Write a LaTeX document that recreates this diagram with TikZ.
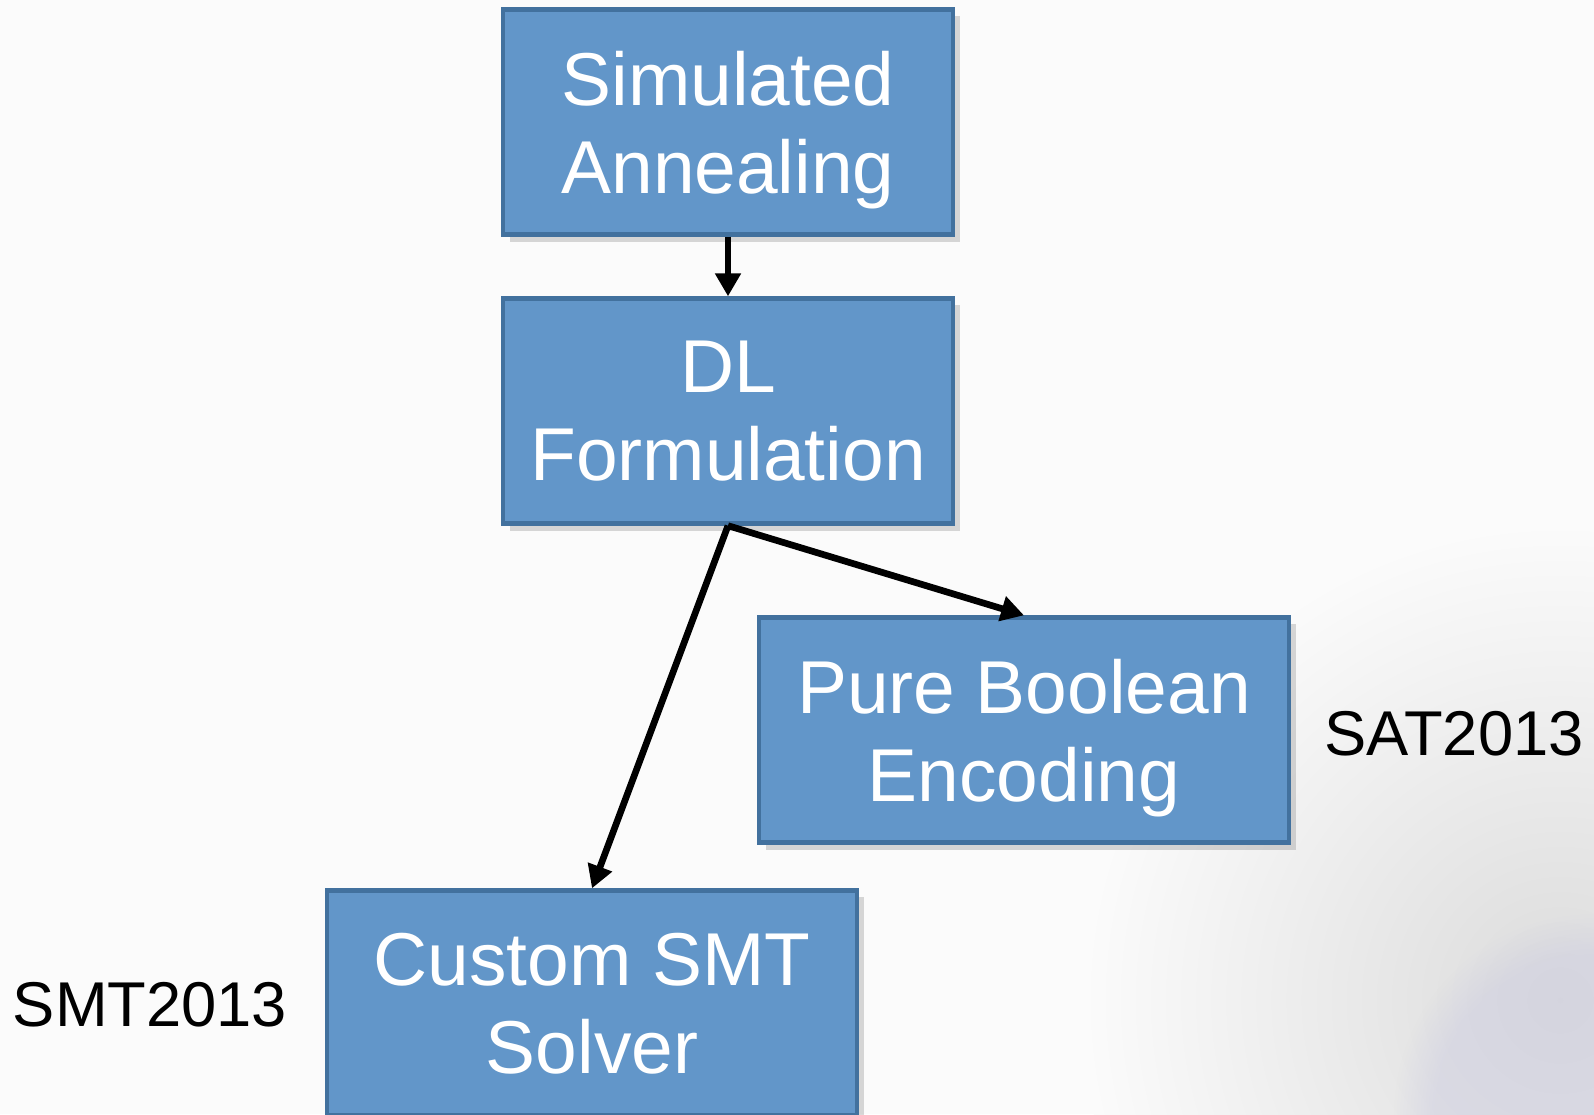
\documentclass[tikz,border=0pt]{standalone}
\usepackage{fontspec}
\setmainfont{Liberation Sans}
\usetikzlibrary{shadows,arrows.meta,fadings}
\definecolor{boxfill}{RGB}{98,150,201}
\definecolor{boxline}{RGB}{66,113,158}

\begin{document}
\begin{tikzpicture}[x=0.01cm,y=-0.01cm,
    stage/.style={draw=boxline,line width=1.2pt,fill=boxfill,text=white,
        minimum height=2.25cm,align=center,inner sep=0pt,text depth=0pt,
        font=\fontsize{21.3}{25}\selectfont,
        drop shadow={opacity=0.3,shadow xshift=2pt,shadow yshift=-2pt}},
    venue/.style={font=\fontsize{18}{20}\selectfont},
    flow/.style={-{Triangle[length=6.5pt,width=7pt]},line width=1.9pt}]
    % background
    \fill[white!97!gray] (0,0) rectangle (1594,1114);
    \begin{scope}
        \clip (0,0) rectangle (1594,1114);
        \shade[inner color=gray!28,outer color=white!97!gray] (1560,1000) circle (480);
        \fill[blue!25!gray!30,opacity=0.5,path fading=circle with fuzzy edge 20 percent] (1594,1114) circle (200);
    \end{scope}
    \useasboundingbox (0,0) rectangle (1594,1114);
    % boxes
    \node[stage,minimum width=4.5cm] (anneal) at (728,122) {Simulated\\Annealing};
    \node[stage,minimum width=4.5cm] (dl) at (728,411) {DL\\Formulation};
    \node[stage,minimum width=5.3cm] (bool) at (1024,730) {Pure Boolean\\Encoding};
    \node[stage,minimum width=5.3cm] (smt) at (592,1003) {Custom SMT\\Solver};
    \node[venue] (sat) at (1454,734) {SAT2013};
    \node[venue] (smtconf) at (150,1005) {SMT2013};
    % arrows
    \draw[flow] (anneal) -- (dl);
    \draw[flow] (dl.south) -- (smt.north);
    \draw[flow] (dl.south) -- (bool.north);
\end{tikzpicture}
\end{document}
